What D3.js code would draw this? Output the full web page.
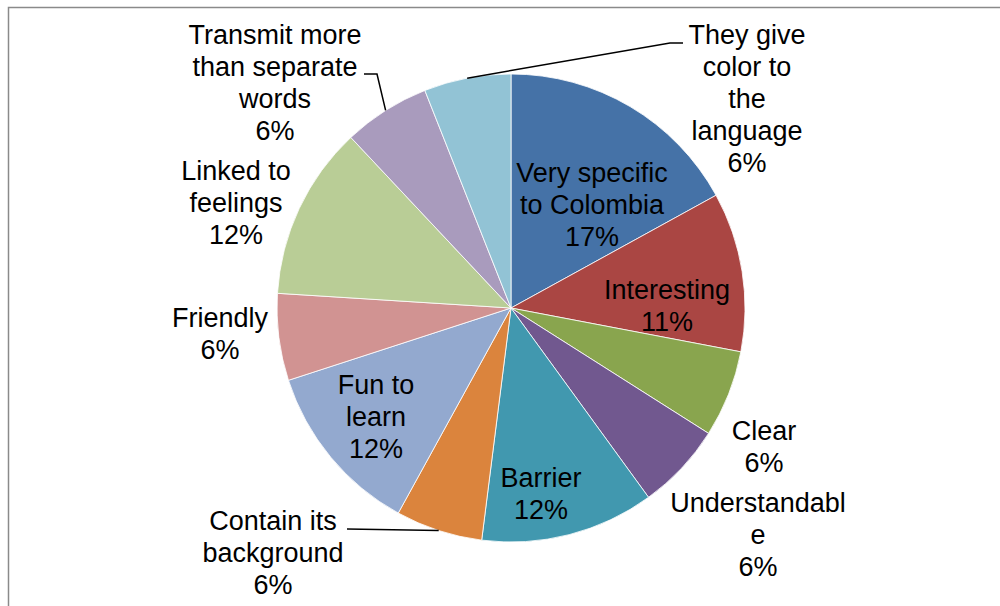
<!DOCTYPE html>
<html>
<head>
<meta charset="utf-8">
<script src="https://cdn.jsdelivr.net/npm/d3@7/dist/d3.min.js"></script>
<style>
  html, body { margin: 0; padding: 0; background: #fff; }
  svg { display: block; }
  text { font-family: "Liberation Sans", Arial, sans-serif; fill: #000; }
</style>
</head>
<body>
<svg id="chart" width="1000" height="606"></svg>
<script>
// Survey answers: how idioms are perceived (percent of responses)
const categories = [
  "Very specific to Colombia", "Interesting", "Clear", "Understandable",
  "Barrier", "Contain its background", "Fun to learn", "Friendly",
  "Linked to feelings", "Transmit more than separate words",
  "They give color to the language"
];
const values = [17, 11, 6, 6, 12, 6, 12, 6, 12, 6, 6];

// Label line breaks as they appear on the chart
const labelLines = [
  ["Very specific", "to Colombia"],
  ["Interesting"],
  ["Clear"],
  ["Understandabl", "e"],
  ["Barrier"],
  ["Contain its", "background"],
  ["Fun to", "learn"],
  ["Friendly"],
  ["Linked to", "feelings"],
  ["Transmit more", "than separate", "words"],
  ["They give", "color to", "the", "language"]
];

const colors = [
  "#4572A7", "#AA4643", "#89A54E", "#71588F", "#4198AF", "#DB843D",
  "#93A9CF", "#D19392", "#B9CD96", "#A99BBD", "#92C3D5"
];

// Label placement relative to the pie centre, plus optional leader line
// (leader: side of the text it leaves from, and elbow offset)
const labelLayout = [
  { dx: 81,   dy: -103 },
  { dx: 156,  dy: -2 },
  { dx: 253,  dy: 139 },
  { dx: 247,  dy: 227 },
  { dx: 30,   dy: 186 },
  { dx: -238, dy: 245, leader: { from: [-164, 221] } },
  { dx: -135, dy: 109 },
  { dx: -291, dy: 26 },
  { dx: -275, dy: -105 },
  { dx: -236, dy: -225, leader: { from: [-147, -234], elbow: [-134, -234] } },
  { dx: 236,  dy: -209, leader: { from: [172, -265], elbow: [159, -265] } }
];

const W = 1000, H = 606;
const cx = 511, cy = 308, R = 234;
const fontSize = 27, lineH = 32;

const svg = d3.select("#chart");

// outer chart-area frame
svg.append("rect")
  .attr("x", 8.5).attr("y", 7.5)
  .attr("width", W + 10).attr("height", H + 10)
  .attr("fill", "#fff")
  .attr("stroke", "#8a8a8a")
  .attr("stroke-width", 1.5);

const data = categories.map((c, i) => ({ name: c, value: values[i], i }));

const pie = d3.pie().value(d => d.value).sort(null).startAngle(0).endAngle(2 * Math.PI);
const arcs = pie(data);
const arc = d3.arc().innerRadius(0).outerRadius(R);

const g = svg.append("g").attr("transform", `translate(${cx},${cy})`);

g.selectAll("path.slice")
  .data(arcs)
  .join("path")
  .attr("class", "slice")
  .attr("d", arc)
  .attr("fill", d => colors[d.data.i])
  .attr("stroke", "#ffffff")
  .attr("stroke-width", 0.8);

// leader lines from the slice edge midpoint to the label
arcs.forEach(a => {
  const lay = labelLayout[a.data.i];
  if (!lay.leader) return;
  const mid = (a.startAngle + a.endAngle) / 2;
  const edge = [R * Math.sin(mid), -R * Math.cos(mid)];
  const pts = [lay.leader.from];
  if (lay.leader.elbow) pts.push(lay.leader.elbow);
  pts.push(edge);
  g.append("path")
    .attr("d", d3.line()(pts))
    .attr("fill", "none")
    .attr("stroke", "#000")
    .attr("stroke-width", 1.5);
});

// labels: category lines followed by the percentage
arcs.forEach(a => {
  const i = a.data.i;
  const lay = labelLayout[i];
  const lines = labelLines[i].concat([a.data.value + "%"]);
  const n = lines.length;
  const t = g.append("text")
    .attr("text-anchor", "middle")
    .attr("font-size", fontSize);
  lines.forEach((ln, k) => {
    t.append("tspan")
      .attr("x", lay.dx)
      .attr("y", lay.dy + (k - (n - 1) / 2) * lineH)
      .attr("dy", "0.35em")
      .text(ln);
  });
});
</script>
</body>
</html>
